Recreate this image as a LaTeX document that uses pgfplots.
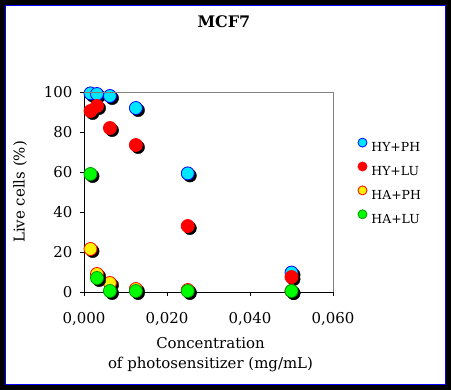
\documentclass[border=0pt]{standalone}
\usepackage{fontspec}
\setmainfont{DejaVu Serif}
\usepackage{pgfplots}
\usepackage{pgfplotstable}
\pgfplotsset{compat=1.18}
\definecolor{cyanfill}{RGB}{0,230,255}
\definecolor{greenedge}{RGB}{0,150,0}

\pgfplotstableread{
x y
0.0015625 99.3
0.003125 99
0.00625 98
0.0125 92
0.025 59.3
0.05 9.7
}\hyph
\pgfplotstableread{
x y
0.0015625 90.5
0.003125 93
0.00625 82
0.0125 73.5
0.025 33
0.05 7.5
}\hylu
\pgfplotstableread{
x y
0.0015625 21.5
0.003125 9
0.00625 4.5
0.0125 1.5
0.025 1
0.05 0.5
}\haph
\pgfplotstableread{
x y
0.0015625 59
0.003125 7
0.00625 0.5
0.0125 0.5
0.025 0.5
0.05 0.5
}\halu

\begin{document}
\begin{tikzpicture}
\fill[black] (0,0) rectangle (451bp,390bp);
\fill[white] (5bp,5bp) rectangle (446bp,385bp);
\draw[blue, line width=1bp] (5.5bp,5.5bp) rectangle (445.5bp,384.5bp);
\begin{axis}[
  at={(84bp,98bp)}, anchor=south west,
  scale only axis, width=249bp, height=200bp,
  xmin=0, xmax=0.06, ymin=0, ymax=100,
  xtick={0,0.02,0.04,0.06},
  xticklabels={{0,000},{0,020},{0,040},{0,060}},
  scaled x ticks=false,
  ytick={0,20,40,60,80,100},
  /pgf/number format/assume math mode=true,
  axis lines=left,
  axis line style={-, black, line width=0.9bp},
  tick align=outside, major tick length=4bp,
  tick style={black, line width=0.9bp},
  font=\fontsize{15}{18}\selectfont,
  xticklabel style={yshift=-13bp},
  yticklabel style={xshift=-4bp},
  clip=false,
  title={MCF7},
  title style={at={(axis description cs:0.562,1.32)}, anchor=center, font=\bfseries\fontsize{16}{19}\selectfont},
  xlabel={Concentration\\of photosensitizer (mg/mL)},
  xlabel style={at={(axis description cs:0.508,-0.315)}, anchor=center, align=center, font=\fontsize{15}{20}\selectfont},
  ylabel={Live cells (\%)},
  ylabel style={at={(axis description cs:-0.257,0.5)}, anchor=center},
  legend style={at={(axis description cs:1.098,0.7725)}, anchor=north west, draw=none, fill=none,
     font=\fontsize{12.5}{15}\selectfont, row sep=9bp, inner sep=0pt, column sep=3bp,
     nodes={inner sep=1bp, text height=9bp, text depth=0bp}},
  legend cell align=left,
  extra description/.code={\draw[gray, line width=0.9bp] (rel axis cs:0,1) -- (rel axis cs:1,1) -- (rel axis cs:1,0);},
]
% HY+PH
\addplot[only marks, mark=*, mark size=6.5bp, mark options={fill=black, draw=black, xshift=2.2bp, yshift=-2.2bp}, forget plot] table {\hyph};
\addplot[only marks, mark=*, mark size=6.5bp, mark options={fill=cyanfill, draw=blue, line width=0.8bp},
  legend image code/.code={\draw[fill=cyanfill, draw=blue, line width=0.8bp] (4.5bp,4.5bp) circle (4.5bp);}] table {\hyph};
\addlegendentry{HY+PH}
% HY+LU
\addplot[only marks, mark=*, mark size=6.5bp, mark options={fill=black, draw=black, xshift=2.2bp, yshift=-2.2bp}, forget plot] table {\hylu};
\addplot[only marks, mark=*, mark size=6.5bp, mark options={fill=red, draw=red, line width=0.8bp},
  legend image code/.code={\draw[fill=red, draw=red, line width=0.8bp] (4.5bp,4.5bp) circle (4.5bp);}] table {\hylu};
\addlegendentry{HY+LU}
% HA+PH
\addplot[only marks, mark=*, mark size=6.5bp, mark options={fill=black, draw=black, xshift=2.2bp, yshift=-2.2bp}, forget plot] table {\haph};
\addplot[only marks, mark=*, mark size=6.5bp, mark options={fill=yellow, draw=red, line width=0.8bp},
  legend image code/.code={\draw[fill=yellow, draw=red, line width=0.8bp] (4.5bp,4.5bp) circle (4.5bp);}] table {\haph};
\addlegendentry{HA+PH}
% HA+LU
\addplot[only marks, mark=*, mark size=6.5bp, mark options={fill=black, draw=black, xshift=2.2bp, yshift=-2.2bp}, forget plot] table {\halu};
\addplot[only marks, mark=*, mark size=6.5bp, mark options={fill=green, draw=greenedge, line width=0.8bp},
  legend image code/.code={\draw[fill=green, draw=greenedge, line width=0.8bp] (4.5bp,4.5bp) circle (4.5bp);}] table {\halu};
\addlegendentry{HA+LU}
\end{axis}
\pgfresetboundingbox
\path[use as bounding box] (0,0) rectangle (451bp,390bp);
\end{tikzpicture}
\end{document}
